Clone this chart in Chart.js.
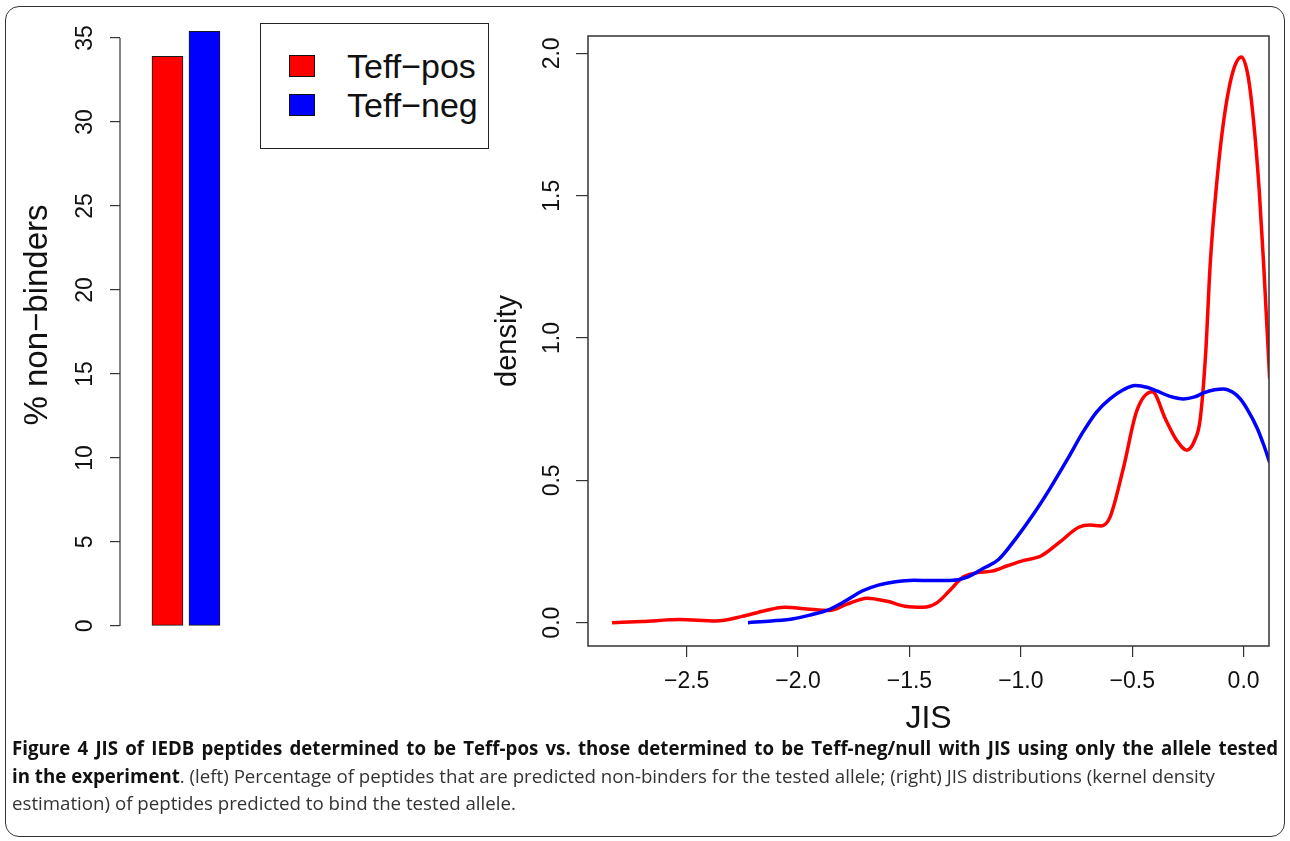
<!DOCTYPE html>
<html>
<head>
<meta charset="utf-8">
<title>Figure 4</title>
<script src="https://cdn.jsdelivr.net/npm/chart.js@4.4.1/dist/chart.umd.min.js"></script>
<style>
    html, body { margin: 0; padding: 0; background: #fff; }
    body { width: 1290px; height: 841px; position: relative; overflow: hidden; font-family: "Liberation Sans", Arial, sans-serif; }
    #frame { position: absolute; left: 5px; top: 6px; width: 1280px; height: 831px; box-sizing: border-box; border: 1.5px solid #333; border-radius: 14px; }
    #barBox { position: absolute; left: 0; top: 0; }
    #densityBox { position: absolute; left: 480px; top: 0; }
    #legend { position: absolute; left: 260px; top: 23px; width: 229px; height: 126px; box-sizing: border-box; border: 1.5px solid #222; background: #fff; }
    .key { position: absolute; left: 28px; width: 26px; height: 22px; box-sizing: border-box; border: 1.5px solid #111; }
    .keyText { position: absolute; left: 86px; font-size: 34px; line-height: 38px; color: #111; white-space: nowrap; }
    #caption { position: absolute; left: 12px; top: 734px; width: 1266px; font-family: "Open Sans", sans-serif; font-size: 18.7px; line-height: 27.5px; color: #333; }
    #caption div { white-space: nowrap; }
    #caption .full { text-align: justify; text-align-last: justify; white-space: normal; }
    #caption b { color: #111; font-weight: 700; }
</style>
</head>
<body>
<div id="frame"></div>
<div id="barBox"><canvas id="barChart" width="250" height="640"></canvas></div>
<div id="densityBox"><canvas id="densityChart" width="810" height="740"></canvas></div>
<div id="legend"></div>
<div id="caption">
    <div class="full"><b>Figure 4 JIS of IEDB peptides determined to be Teff-pos vs. those determined to be Teff-neg/null with JIS using only the allele tested</b></div>
    <div><b>in the experiment</b>. (left) Percentage of peptides that are predicted non-binders for the tested allele; (right) JIS distributions (kernel density</div>
    <div>estimation) of peptides predicted to bind the tested allele.</div>
</div>
<script>
// left panel: % of peptides predicted non-binders
const groups = ['Teff\u2212pos', 'Teff\u2212neg'];
const groupColors = ['#ff0000', '#0000ff'];
const nonBinderPct = [33.9, 35.4];
const pctTicks = [0, 5, 10, 15, 20, 25, 30, 35];

// right panel: kernel density of JIS
const posJis = [-2.835, -2.70, -2.53, -2.37, -2.25, -2.15, -2.06, -1.96, -1.86, -1.78, -1.69, -1.60, -1.52, -1.44,
    -1.38, -1.32, -1.26, -1.20, -1.13, -1.06, -0.99, -0.91, -0.83, -0.74, -0.69, -0.64, -0.60, -0.54, -0.48,
    -0.41, -0.35, -0.30, -0.255, -0.22, -0.195, -0.17, -0.15, -0.12, -0.09, -0.05, -0.01, 0.02, 0.045, 0.07, 0.09, 0.117];
const posDensity = [0.0, 0.004, 0.011, 0.006, 0.022, 0.042, 0.054, 0.048, 0.043, 0.065, 0.086, 0.075, 0.058, 0.054,
    0.068, 0.112, 0.160, 0.175, 0.181, 0.200, 0.218, 0.234, 0.280, 0.335, 0.343, 0.340, 0.370, 0.542, 0.743,
    0.811, 0.714, 0.640, 0.606, 0.640, 0.714, 0.95, 1.259, 1.55, 1.76, 1.93, 1.987, 1.92, 1.76, 1.52, 1.259, 0.857];
const negJis = [-2.225, -2.12, -2.02, -1.94, -1.87, -1.79, -1.71, -1.64, -1.57, -1.48, -1.40, -1.32, -1.24, -1.17,
    -1.10, -1.02, -0.94, -0.87, -0.79, -0.72, -0.66, -0.60, -0.54, -0.487, -0.43, -0.39, -0.33, -0.27, -0.22,
    -0.18, -0.13, -0.09, -0.05, -0.015, 0.02, 0.06, 0.09, 0.117];
const negDensity = [0.0, 0.006, 0.014, 0.028, 0.043, 0.075, 0.112, 0.132, 0.143, 0.149, 0.148, 0.148, 0.160, 0.190,
    0.222, 0.298, 0.385, 0.470, 0.575, 0.671, 0.740, 0.786, 0.818, 0.833, 0.826, 0.814, 0.795, 0.786, 0.793,
    0.807, 0.818, 0.821, 0.810, 0.786, 0.745, 0.685, 0.625, 0.563];
const densityTicks = [0, 0.5, 1.0, 1.5, 2.0];
const jisTicks = [-2.5, -2.0, -1.5, -1.0, -0.5, 0.0];

const fontFamily = '"Liberation Sans", Arial, sans-serif';
const ink = '#111';
const fmt = v => (v < 0 ? '\u2212' : '') + Math.abs(v).toFixed(1);

// legend box, R style
const legend = document.getElementById('legend');
groups.forEach((name, i) => {
    const key = document.createElement('div');
    key.className = 'key';
    key.style.top = (31 + i * 39) + 'px';
    key.style.background = groupColors[i];
    legend.appendChild(key);
    const label = document.createElement('div');
    label.className = 'keyText';
    label.style.top = (23 + i * 39) + 'px';
    label.textContent = name;
    legend.appendChild(label);
});

// barplot y axis only runs from the first to the last tick
const axisLine = {
    id: 'axisLine',
    afterDraw(chart) {
        const y = chart.scales.y;
        const ctx = chart.ctx;
        ctx.save();
        ctx.strokeStyle = '#333';
        ctx.lineWidth = 1.2;
        ctx.beginPath();
        ctx.moveTo(chart.chartArea.left, y.getPixelForValue(pctTicks[0]));
        ctx.lineTo(chart.chartArea.left, y.getPixelForValue(pctTicks[pctTicks.length - 1]));
        ctx.stroke();
        ctx.restore();
    }
};

// box around the density plot
const boxFrame = {
    id: 'boxFrame',
    afterDraw(chart) {
        const a = chart.chartArea;
        const ctx = chart.ctx;
        ctx.save();
        ctx.strokeStyle = '#333';
        ctx.lineWidth = 1.5;
        ctx.strokeRect(a.left, a.top, a.right - a.left, a.bottom - a.top);
        ctx.restore();
    }
};

// keep the plot area exactly where the padding puts it
const noLabelMargins = s => { s.paddingTop = 0; s.paddingBottom = 0; };

new Chart(document.getElementById('barChart'), {
    type: 'bar',
    data: {
        datasets: [{
            label: '% non-binders',
            // R barplot centres: width 1, space 0.2
            data: nonBinderPct.map((v, i) => ({ x: 0.7 + i * 1.2, y: v })),
            backgroundColor: groupColors,
            borderColor: '#1a1a1a',
            borderWidth: 1,
            borderSkipped: false,
            barThickness: 31
        }]
    },
    options: {
        responsive: false,
        animation: false,
        devicePixelRatio: 1,
        layout: { padding: { left: 0, right: 0, top: 0, bottom: 10 } },
        plugins: { legend: { display: false }, tooltip: { enabled: false } },
        scales: {
            x: { type: 'linear', min: -0.84, max: 3.377, display: false, offset: false },
            y: {
                min: -0.24,
                max: 37.26,
                afterBuildTicks: s => { s.ticks = pctTicks.map(v => ({ value: v })); },
                afterFit: s => { s.width = 120; noLabelMargins(s); },
                border: { display: false },
                grid: { drawOnChartArea: false, tickLength: 10, color: '#333', lineWidth: 1.2 },
                ticks: {
                    font: { family: fontFamily, size: 23 }, color: ink,
                    minRotation: 90, maxRotation: 90, crossAlign: 'center', padding: 12
                },
                title: {
                    display: true, text: '% non\u2212binders', color: ink,
                    font: { family: fontFamily, size: 33 }, padding: { top: 18, bottom: 0 }
                }
            }
        }
    },
    plugins: [axisLine]
});

new Chart(document.getElementById('densityChart'), {
    type: 'line',
    data: {
        datasets: [{
            label: groups[0],
            data: posJis.map((x, i) => ({ x: x, y: posDensity[i] })),
            borderColor: groupColors[0],
            borderWidth: 3.5,
            pointRadius: 0,
            cubicInterpolationMode: 'monotone',
            fill: false,
            order: 2
        }, {
            label: groups[1],
            data: negJis.map((x, i) => ({ x: x, y: negDensity[i] })),
            borderColor: groupColors[1],
            borderWidth: 3.5,
            pointRadius: 0,
            cubicInterpolationMode: 'monotone',
            fill: false,
            order: 1
        }]
    },
    options: {
        responsive: false,
        animation: false,
        devicePixelRatio: 1,
        layout: { padding: { left: 0, right: 21, top: 36, bottom: 0 } },
        plugins: { legend: { display: false }, tooltip: { enabled: false } },
        scales: {
            x: {
                type: 'linear',
                min: -2.943,
                max: 0.114,
                afterBuildTicks: s => { s.ticks = jisTicks.map(v => ({ value: v })); },
                afterFit: s => { s.height = 94; },
                border: { display: false },
                grid: { drawOnChartArea: false, tickLength: 11, color: '#333', lineWidth: 1.2 },
                ticks: { font: { family: fontFamily, size: 23 }, color: ink, padding: 11, maxRotation: 0, callback: fmt },
                title: {
                    display: true, text: 'JIS', color: ink,
                    font: { family: fontFamily, size: 32 }, padding: { top: 0, bottom: 2 }
                }
            },
            y: {
                min: -0.082,
                max: 2.061,
                afterBuildTicks: s => { s.ticks = densityTicks.map(v => ({ value: v })); },
                afterFit: s => { s.width = 108; noLabelMargins(s); },
                border: { display: false },
                grid: { drawOnChartArea: false, tickLength: 12, color: '#333', lineWidth: 1.2 },
                ticks: {
                    font: { family: fontFamily, size: 23 }, color: ink,
                    minRotation: 90, maxRotation: 90, crossAlign: 'center', padding: 7, callback: fmt
                },
                title: {
                    display: true, text: 'density', color: ink,
                    font: { family: fontFamily, size: 29 }, padding: { top: 11, bottom: 0 }
                }
            }
        }
    },
    plugins: [boxFrame]
});
</script>
</body>
</html>
